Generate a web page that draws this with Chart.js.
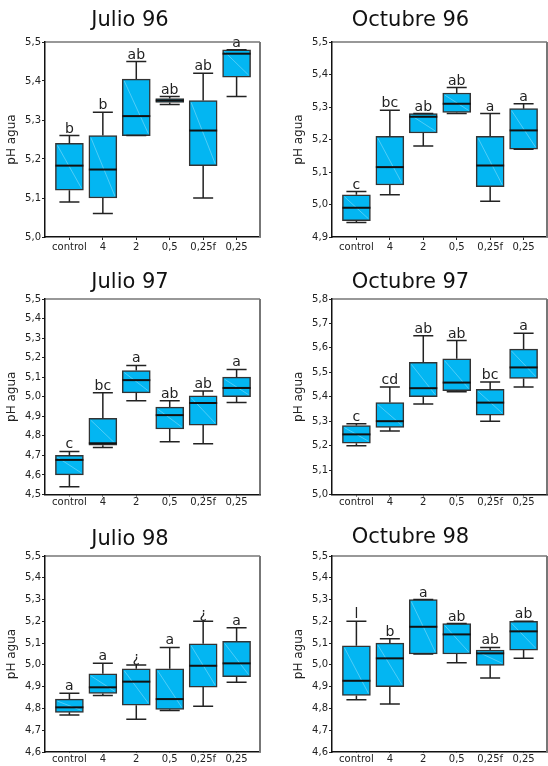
<!DOCTYPE html>
<html><head><meta charset="utf-8">
<script src="https://cdn.jsdelivr.net/npm/chart.js@4"></script>
<style>
html,body{margin:0;padding:0;overflow:hidden;background:#fff;width:548px;height:766px;position:relative}
canvas{position:absolute}
</style></head><body>
<script>
const categories = ['control','4','2','0,5','0,25f','0,25'];

// Julio 96
const j96Min = [5.09, 5.06, 5.26, 5.34, 5.10, 5.36];
const j96Q1  = [5.12, 5.10, 5.26, 5.345, 5.183, 5.41];
const j96Med = [5.183, 5.173, 5.31, 5.35, 5.273, 5.47];
const j96Q3  = [5.24, 5.26, 5.405, 5.355, 5.35, 5.48];
const j96Max = [5.26, 5.32, 5.45, 5.36, 5.42, 5.48];
const j96Letters = ['b','b','ab','ab','ab','a'];
const j96YTicks = [5.0, 5.1, 5.2, 5.3, 5.4, 5.5];

// Octubre 96
const o96Min = [4.945, 5.03, 5.18, 5.28, 5.01, 5.17];
const o96Q1  = [4.95, 5.06, 5.22, 5.283, 5.055, 5.17];
const o96Med = [4.99, 5.115, 5.27, 5.31, 5.12, 5.228];
const o96Q3  = [5.03, 5.21, 5.28, 5.343, 5.21, 5.295];
const o96Max = [5.04, 5.29, 5.28, 5.36, 5.28, 5.31];
const o96Letters = ['c','bc','ab','ab','a','a'];
const o96YTicks = [4.9, 5.0, 5.1, 5.2, 5.3, 5.4, 5.5];

// Julio 97
const j97Min = [4.54, 4.74, 4.98, 4.77, 4.76, 4.97];
const j97Q1  = [4.60, 4.752, 5.02, 4.835, 4.855, 5.0];
const j97Med = [4.677, 4.762, 5.085, 4.906, 4.968, 5.045];
const j97Q3  = [4.70, 4.89, 5.134, 4.947, 5.005, 5.10];
const j97Max = [4.72, 5.02, 5.16, 4.98, 5.03, 5.14];
const j97Letters = ['c','bc','a','ab','ab','a'];
const j97YTicks = [4.5, 4.6, 4.7, 4.8, 4.9, 5.0, 5.1, 5.2, 5.3, 5.4, 5.5];

// Octubre 97
const o97Min = [5.20, 5.26, 5.37, 5.42, 5.30, 5.44];
const o97Q1  = [5.21, 5.275, 5.40, 5.425, 5.325, 5.475];
const o97Med = [5.246, 5.30, 5.435, 5.458, 5.376, 5.52];
const o97Q3  = [5.282, 5.376, 5.541, 5.555, 5.43, 5.595];
const o97Max = [5.29, 5.44, 5.65, 5.63, 5.46, 5.66];
const o97Letters = ['c','cd','ab','ab','bc','a'];
const o97YTicks = [5.0, 5.1, 5.2, 5.3, 5.4, 5.5, 5.6, 5.7, 5.8];

// Julio 98
const j98Min = [4.77, 4.86, 4.75, 4.79, 4.81, 4.92];
const j98Q1  = [4.782, 4.869, 4.815, 4.796, 4.898, 4.946];
const j98Med = [4.805, 4.897, 4.923, 4.843, 4.996, 5.007];
const j98Q3  = [4.843, 4.959, 4.982, 4.982, 5.097, 5.108];
const j98Max = [4.87, 5.007, 5.00, 5.08, 5.20, 5.17];
const j98Letters = ['a','a','¿','a','¿','a'];
const j98YTicks = [4.6, 4.7, 4.8, 4.9, 5.0, 5.1, 5.2, 5.3, 5.4, 5.5];

// Octubre 98
const o98Min = [4.84, 4.82, 5.05, 5.01, 4.94, 5.03];
const o98Q1  = [4.86, 4.90, 5.05, 5.05, 4.998, 5.068];
const o98Med = [4.927, 5.03, 5.175, 5.14, 5.053, 5.154];
const o98Q3  = [5.088, 5.10, 5.30, 5.19, 5.068, 5.20];
const o98Max = [5.20, 5.12, 5.30, 5.19, 5.08, 5.20];
const o98Letters = ['l','b','a','ab','ab','ab'];
const o98YTicks = [4.6, 4.7, 4.8, 4.9, 5.0, 5.1, 5.2, 5.3, 5.4, 5.5];

Chart.defaults.font.family = "'DejaVu Sans', Verdana, sans-serif";

const boxPlugin = (d) => ({
  id: 'boxExtras',
  afterDatasetsDraw(chart) {
    const ctx = chart.ctx, ys = chart.scales.y;
    const meta = chart.getDatasetMeta(0);
    ctx.save();
    d.med.forEach((m, i) => {
      const el = meta.data[i];
      const cx = el.x, hw = el.width / 2;
      const pMax = ys.getPixelForValue(d.max[i]);
      const pMin = ys.getPixelForValue(d.min[i]);
      const pQ1 = ys.getPixelForValue(d.q1[i]);
      const pQ3 = ys.getPixelForValue(d.q3[i]);
      const pMed = ys.getPixelForValue(m);
      // whiskers
      ctx.strokeStyle = '#222'; ctx.lineWidth = 1.5;
      ctx.beginPath();
      ctx.moveTo(cx, pMax); ctx.lineTo(cx, pQ3);
      ctx.moveTo(cx, pQ1); ctx.lineTo(cx, pMin);
      ctx.moveTo(cx - 10, pMax); ctx.lineTo(cx + 10, pMax);
      ctx.moveTo(cx - 10, pMin); ctx.lineTo(cx + 10, pMin);
      ctx.stroke();
      // faint diagonal inside the box
      if (pQ1 - pQ3 > 6) {
        ctx.strokeStyle = 'rgba(255,255,255,0.3)'; ctx.lineWidth = 1;
        ctx.beginPath();
        ctx.moveTo(cx - hw + 2, pQ3 + 2); ctx.lineTo(cx + hw - 2, pQ1 - 2);
        ctx.stroke();
      }
      // median
      ctx.strokeStyle = '#111'; ctx.lineWidth = 2;
      ctx.beginPath();
      ctx.moveTo(cx - hw, pMed); ctx.lineTo(cx + hw, pMed);
      ctx.stroke();
      // letter
      ctx.fillStyle = '#222';
      ctx.font = "14px 'DejaVu Sans', Verdana, sans-serif";
      ctx.textAlign = 'center'; ctx.textBaseline = 'alphabetic';
      ctx.fillText(d.letters[i], cx, pMax - 3);
    });
    // frame top & right
    const a = chart.chartArea;
    ctx.strokeStyle = '#333'; ctx.lineWidth = 1.2;
    ctx.beginPath(); ctx.moveTo(a.left, a.top); ctx.lineTo(a.right, a.top); ctx.stroke();
    ctx.strokeStyle = '#777'; ctx.lineWidth = 2;
    ctx.beginPath(); ctx.moveTo(a.right, a.top); ctx.lineTo(a.right, a.bottom); ctx.stroke();
    ctx.restore();
  }
});

function makePanel(d) {
  const cv = document.createElement('canvas');
  cv.width = d.w; cv.height = d.h;
  cv.style.left = d.left + 'px'; cv.style.top = d.top + 'px';
  cv.style.width = d.w + 'px'; cv.style.height = d.h + 'px';
  document.body.appendChild(cv);
  new Chart(cv, {
    type: 'bar',
    data: {
      datasets: [{
        data: d.q1.map((v, i) => ({ x: i, y: [v, d.q3[i]] })),
        backgroundColor: '#03B6F2',
        borderColor: '#333',
        borderWidth: 1.5,
        borderSkipped: false,
        barThickness: 28
      }]
    },
    options: {
      responsive: false, animation: false, devicePixelRatio: 1,
      layout: { padding: { left: 0, right: d.padR, top: 0, bottom: 0 } },
      plugins: {
        legend: { display: false }, tooltip: { enabled: false },
        title: {
          display: true, text: d.title, color: '#111',
          font: { size: 21, weight: 'normal' },
          padding: { top: d.tpt, bottom: d.tpb }
        }
      },
      scales: {
        x: {
          type: 'linear', min: -0.73, max: 5.7, offset: false,
          afterBuildTicks: s => { s.ticks = categories.map((c, i) => ({ value: i })); },
          afterFit: s => { s.height = d.xh; },
          ticks: { callback: v => categories[v], autoSkip: false, maxRotation: 0, color: '#222', font: { size: 10 }, padding: d.xpad },
          grid: { drawOnChartArea: false, tickLength: d.xtick, color: '#222', offset: false },
          border: { color: '#111', width: 1.5 }
        },
        y: {
          type: 'linear', min: d.yTicks[0], max: d.yTicks[d.yTicks.length - 1],
          afterBuildTicks: s => { s.ticks = d.yTicks.map(v => ({ value: v })); },
          afterFit: s => { s.width = d.yw; },
          ticks: { callback: v => v.toFixed(1).replace('.', ','), color: '#222', font: { size: 10 }, padding: 1 },
          grid: { drawOnChartArea: false, tickLength: 3, color: '#222' },
          border: { color: '#111', width: 1.5 },
          title: { display: true, text: 'pH agua', color: '#222', font: { size: 12 }, padding: { top: d.ytp, bottom: 0 } }
        }
      }
    },
    plugins: [boxPlugin(d)]
  });
}

makePanel({ title: 'Julio 96', left: 0, top: 0, w: 292, h: 260, yw: 45, padR: 32, xh: 23, tpt: 8.4, tpb: 8.4, ytp: 4.8, xpad: 1, xtick: 3,
  min: j96Min, q1: j96Q1, med: j96Med, q3: j96Q3, max: j96Max, letters: j96Letters, yTicks: j96YTicks });
makePanel({ title: 'Octubre 96', left: 274, top: 0, w: 350, h: 260, yw: 58, padR: 77, xh: 23, tpt: 8.4, tpb: 8.4, ytp: 17.8, xpad: 1, xtick: 3,
  min: o96Min, q1: o96Q1, med: o96Med, q3: o96Q3, max: o96Max, letters: o96Letters, yTicks: o96YTicks });
makePanel({ title: 'Julio 97', left: 0, top: 260, w: 298, h: 250, yw: 45, padR: 38, xh: 15.5, tpt: 10.4, tpb: 3.4, ytp: 4.8, xpad: 0, xtick: 2,
  min: j97Min, q1: j97Q1, med: j97Med, q3: j97Q3, max: j97Max, letters: j97Letters, yTicks: j97YTicks });
makePanel({ title: 'Octubre 97', left: 274, top: 260, w: 324, h: 250, yw: 58, padR: 51, xh: 15.5, tpt: 9.9, tpb: 3.9, ytp: 17.8, xpad: 0, xtick: 2,
  min: o97Min, q1: o97Q1, med: o97Med, q3: o97Q3, max: o97Max, letters: o97Letters, yTicks: o97YTicks });
makePanel({ title: 'Julio 98', left: 0, top: 510, w: 302, h: 256, yw: 45, padR: 42, xh: 14, tpt: 16.9, tpb: 3.9, ytp: 4.2, xpad: 0, xtick: 1,
  min: j98Min, q1: j98Q1, med: j98Med, q3: j98Q3, max: j98Max, letters: j98Letters, yTicks: j98YTicks });
makePanel({ title: 'Octubre 98', left: 274, top: 510, w: 344, h: 256, yw: 58, padR: 71, xh: 14, tpt: 14.6, tpb: 6.2, ytp: 17.2, xpad: 0, xtick: 1,
  min: o98Min, q1: o98Q1, med: o98Med, q3: o98Q3, max: o98Max, letters: o98Letters, yTicks: o98YTicks });
</script>
</body></html>
